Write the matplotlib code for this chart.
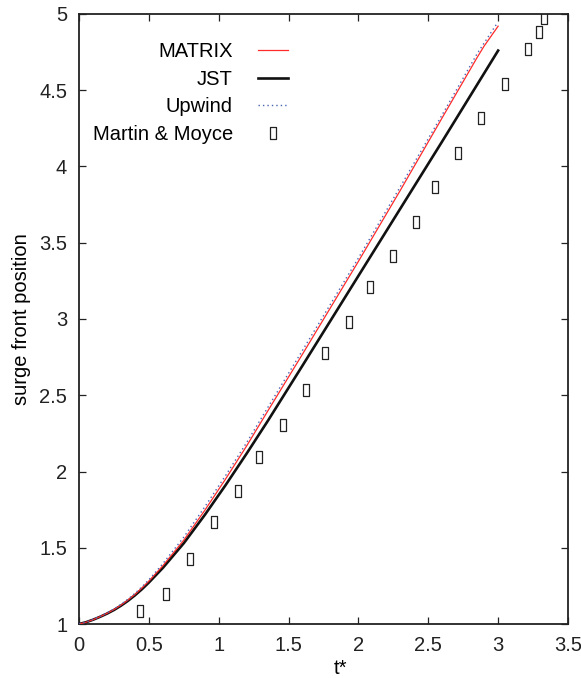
import matplotlib
matplotlib.use("Agg")
import matplotlib.pyplot as plt
from matplotlib.path import Path
from matplotlib.ticker import FormatStrFormatter, MultipleLocator

plt.rcParams['font.family'] = ['Liberation Sans', 'DejaVu Sans']
plt.rcParams['font.size'] = 14.5

# surge front position vs dimensionless time, three schemes
t_jst = [0.0, 0.05, 0.1, 0.15, 0.2, 0.25, 0.3, 0.35, 0.4, 0.45, 0.5, 0.6, 0.75, 0.9,
         1.05, 1.2, 1.35, 1.6, 2.0, 2.3, 2.6, 3.0]
z_jst = [1.000, 1.012, 1.028, 1.047, 1.068, 1.092, 1.120, 1.152, 1.188, 1.228, 1.272, 1.368,
         1.530, 1.715, 1.912, 2.118, 2.330, 2.695, 3.283, 3.724, 4.165, 4.760]

t_matrix = [0.0, 0.05, 0.1, 0.15, 0.2, 0.25, 0.3, 0.35, 0.4, 0.45, 0.5, 0.6, 0.75, 0.9,
            1.05, 1.2, 1.35, 1.6, 2.0, 2.3, 2.6, 2.85, 2.9, 3.0]
z_matrix = [1.000, 1.012, 1.028, 1.048, 1.070, 1.095, 1.124, 1.157, 1.194, 1.236, 1.281, 1.382,
            1.550, 1.745, 1.952, 2.168, 2.395, 2.770, 3.378, 3.844, 4.320, 4.715, 4.790, 4.920]

t_upwind = [0.0, 0.05, 0.1, 0.15, 0.2, 0.25, 0.3, 0.35, 0.4, 0.45, 0.5, 0.6, 0.75, 0.9,
            1.05, 1.2, 1.35, 1.6, 2.0, 2.3, 2.6, 2.85, 2.9, 2.99]
z_upwind = [1.000, 1.013, 1.030, 1.050, 1.073, 1.099, 1.129, 1.163, 1.201, 1.244, 1.290, 1.396,
            1.570, 1.768, 1.975, 2.190, 2.418, 2.795, 3.400, 3.868, 4.340, 4.740, 4.810, 4.935]

# experimental data (Martin & Moyce)
t_exp = [0.437, 0.623, 0.797, 0.968, 1.138, 1.286, 1.458, 1.623, 1.761, 1.935,
         2.081, 2.250, 2.410, 2.546, 2.713, 2.877, 3.049, 3.212, 3.293, 3.326]
z_exp = [1.085, 1.197, 1.424, 1.669, 1.874, 2.093, 2.305, 2.532, 2.775, 2.982,
         3.208, 3.415, 3.638, 3.866, 4.091, 4.316, 4.541, 4.769, 4.880, 4.976]

# box with a dot in the middle
box = Path(
    [(-0.3, -0.5), (0.3, -0.5), (0.3, 0.5), (-0.3, 0.5), (-0.3, -0.5),
     (-0.03, -0.03), (0.03, -0.03), (0.03, 0.03), (-0.03, 0.03), (-0.03, -0.03)],
    [Path.MOVETO, Path.LINETO, Path.LINETO, Path.LINETO, Path.CLOSEPOLY,
     Path.MOVETO, Path.LINETO, Path.LINETO, Path.LINETO, Path.CLOSEPOLY])

fig = plt.figure(figsize=(5.81, 6.78), dpi=100)
ax = fig.add_axes([0.136, 0.0796, 0.8416, 0.8998])

ax.plot(t_matrix, z_matrix, color='#ff2a2a', lw=0.9, label='MATRIX', zorder=3)
ax.plot(t_jst, z_jst, color='#111111', lw=1.9, label='JST', zorder=2)
ax.plot(t_upwind, z_upwind, color='#4a64b4', lw=1.0, ls=(0, (1, 2.2)), label='Upwind', zorder=4)
ax.plot(t_exp, z_exp, ls='none', marker=box, ms=8, mfc='none', mec='#222222',
        mew=0.9, label='Martin & Moyce', zorder=5)

ax.set_xlim(0, 3.5)
ax.set_ylim(1, 5)
ax.xaxis.set_major_locator(MultipleLocator(0.5))
ax.yaxis.set_major_locator(MultipleLocator(0.5))
ax.xaxis.set_major_formatter(FormatStrFormatter('%g'))
ax.yaxis.set_major_formatter(FormatStrFormatter('%g'))
ax.tick_params(direction='in', top=True, right=True, length=5, width=0.9,
               pad=8.5, labelsize=14.5, colors='#222222')
for s in ax.spines.values():
    s.set_linewidth(1.3)
    s.set_color('#222222')

ax.set_xlabel('t*', fontsize=14.5)
ax.set_ylabel('surge front position', fontsize=14.5)
ax.xaxis.set_label_coords(0.535, -0.057)
ax.yaxis.set_label_coords(-0.098, 0.5)

ax.legend(loc='upper right', bbox_to_anchor=(0.427, 0.954), markerfirst=False,
          frameon=False, handlelength=1.49, handletextpad=1.24, labelspacing=0.43,
          borderpad=0, borderaxespad=0, fontsize=14.5)

fig.savefig('out.png', dpi=100)
